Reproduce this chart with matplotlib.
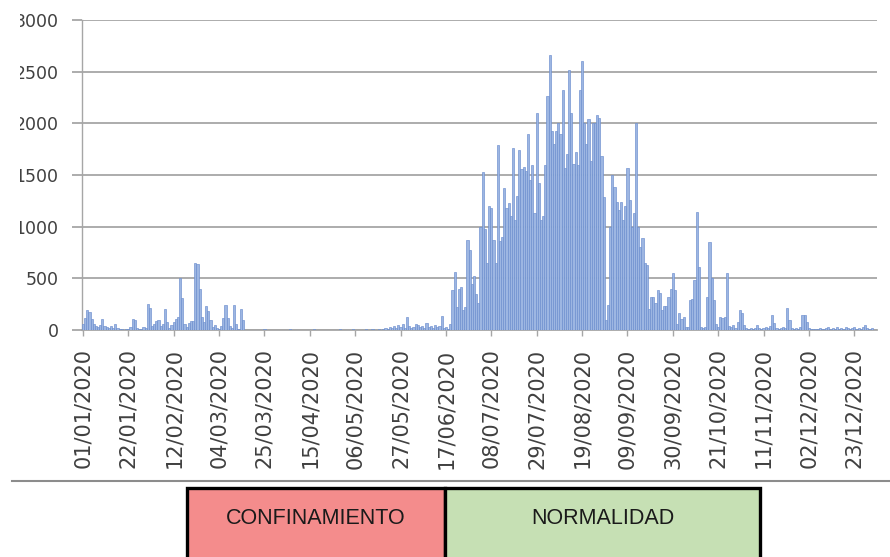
import datetime as dt
import matplotlib
matplotlib.use("Agg")
import matplotlib.pyplot as plt
from matplotlib.patches import Rectangle
from matplotlib.lines import Line2D

# ---------------- data (daily values, 01/01/2020 .. 31/12/2020) ----------------
start_date = "01/01/2020"
daily_values = [
    60, 120, 190, 170, 110, 60, 40, 30, 50, 110,
    40, 30, 20, 40, 20, 60, 20, 10, 5, 0,
    10, 5, 30, 110, 100, 20, 5, 10, 30, 20,
    250, 210, 40, 60, 90, 100, 40, 60, 200, 80,
    20, 50, 80, 110, 130, 500, 310, 60, 30, 70,
    90, 90, 650, 640, 400, 130, 80, 230, 180, 100,
    30, 50, 20, 10, 40, 120, 240, 120, 40, 20,
    240, 60, 10, 200, 100, 0, 0, 0, 0, 0,
    0, 0, 0, 0, 5, 0, 0, 0, 0, 0,
    0, 0, 0, 0, 0, 0, 5, 0, 0, 0,
    0, 0, 0, 0, 0, 0, 0, 5, 0, 0,
    0, 0, 0, 0, 0, 0, 0, 0, 0, 5,
    0, 0, 0, 0, 0, 5, 0, 0, 0, 0,
    0, 5, 0, 0, 5, 0, 0, 10, 0, 5,
    20, 10, 30, 15, 40, 20, 50, 30, 60, 20,
    130, 40, 20, 30, 60, 50, 30, 40, 20, 70,
    30, 40, 20, 50, 30, 40, 140, 20, 30, 10,
    60, 390, 560, 220, 400, 420, 190, 220, 870, 770,
    450, 520, 350, 260, 1000, 1530, 980, 650, 1200, 1180,
    870, 650, 1790, 860, 900, 1370, 1180, 1230, 1100, 1760,
    1060, 1300, 1740, 1560, 1580, 1540, 1900, 1450, 1600, 1130,
    2100, 1420, 1060, 1100, 1600, 2260, 2660, 1930, 1800, 1930,
    2000, 1900, 2320, 1570, 1700, 2520, 2100, 1610, 1720, 1600,
    2320, 2600, 2000, 1800, 2040, 1640, 2000, 2000, 2080, 2050,
    1680, 1290, 100, 240, 1000, 1500, 1380, 1240, 1160, 1240,
    1060, 1200, 1570, 1260, 1000, 1130, 2000, 1000, 800, 890,
    650, 630, 200, 320, 320, 260, 390, 360, 190, 230,
    230, 320, 400, 550, 390, 60, 160, 110, 130, 30,
    30, 290, 300, 480, 1145, 610, 30, 20, 30, 320,
    850, 500, 290, 60, 30, 130, 120, 130, 550, 40,
    30, 50, 20, 80, 195, 160, 50, 20, 10, 20,
    10, 20, 50, 20, 10, 20, 30, 20, 40, 145,
    65, 20, 10, 20, 30, 20, 210, 100, 20, 10,
    20, 10, 30, 145, 145, 80, 20, 10, 5, 10,
    10, 20, 10, 5, 20, 30, 10, 20, 10, 30,
    10, 20, 10, 30, 20, 10, 20, 30, 10, 20,
    10, 30, 50, 20, 10, 20,
]
tick_labels = ["01/01/2020", "22/01/2020", "12/02/2020", "04/03/2020", "25/03/2020",
               "15/04/2020", "06/05/2020", "27/05/2020", "17/06/2020", "08/07/2020",
               "29/07/2020", "19/08/2020", "09/09/2020", "30/09/2020", "21/10/2020",
               "11/11/2020", "02/12/2020", "23/12/2020"]
y_ticks = [0, 500, 1000, 1500, 2000, 2500, 3000]
period_labels = ["CONFINAMIENTO", "NORMALIDAD"]
period_colors = ["#F48C8C", "#C6E0B4"]

# ---------------- figure ----------------
W, H = 890, 557
fig = plt.figure(figsize=(W / 100, H / 100), dpi=100)
fig.patch.set_facecolor("white")

def fx(px):
    return px / W

def fy(py):
    return 1 - py / H

ax = fig.add_axes([fx(82.3), fy(330), fx(877) - fx(82.3), fy(20) - fy(330)])

d0 = dt.datetime.strptime(start_date, "%d/%m/%Y")
days = list(range(len(daily_values)))
tick_pos = [(dt.datetime.strptime(t, "%d/%m/%Y") - d0).days for t in tick_labels]

ax.bar(days, daily_values, width=1.0, color="#9DB6E2", edgecolor="#6A8DCE",
       linewidth=0.45, zorder=3)

ax.set_xlim(-0.3, 367.5)
ax.set_ylim(0, 3000)
ax.set_yticks(y_ticks)
ax.set_yticklabels([str(v) for v in y_ticks], fontsize=12.5, color="#404040")
ax.set_xticks(tick_pos)
ax.set_xticklabels(tick_labels, rotation=90, fontsize=15, color="#404040")

ax.grid(axis="y", color="#A6A6A6", linewidth=1.3, zorder=0)
ax.set_axisbelow(True)
for s in ["top", "right"]:
    ax.spines[s].set_visible(False)
ax.spines["left"].set_color("#A6A6A6")
ax.spines["left"].set_linewidth(1.0)
ax.spines["bottom"].set_color("#A6A6A6")
ax.spines["bottom"].set_linewidth(1.3)
ax.tick_params(axis="y", length=7.2, width=1.3, color="#A6A6A6", pad=10)
ax.tick_params(axis="x", length=4.3, width=1.0, color="#A6A6A6", pad=9)

# white cover on the far left (labels are clipped in the reference)
fig.add_artist(Rectangle((0, fy(245)), fx(20), 1 - fy(245), transform=fig.transFigure,
                         facecolor="white", edgecolor="none", zorder=10))

# separator line
fig.add_artist(Line2D([fx(12), fx(890)], [fy(481), fy(481)], transform=fig.transFigure,
                      color="#8C8C8C", linewidth=1.5))

# period boxes
box_edges = [187, 445, 760]
for i, (lab, col) in enumerate(zip(period_labels, period_colors)):
    x0, x1 = box_edges[i], box_edges[i + 1]
    fig.add_artist(Rectangle((fx(x0), fy(580)), fx(x1) - fx(x0), fy(488) - fy(580),
                             transform=fig.transFigure, facecolor=col,
                             edgecolor="black", linewidth=2.4, zorder=5))
    fig.text(fx((x0 + x1) / 2), fy(519), lab, ha="center", va="center",
             fontsize=15.5, family=["Liberation Sans", "DejaVu Sans"],
             color="#1a1a1a", zorder=6)

fig.savefig("out.png", dpi=100)
